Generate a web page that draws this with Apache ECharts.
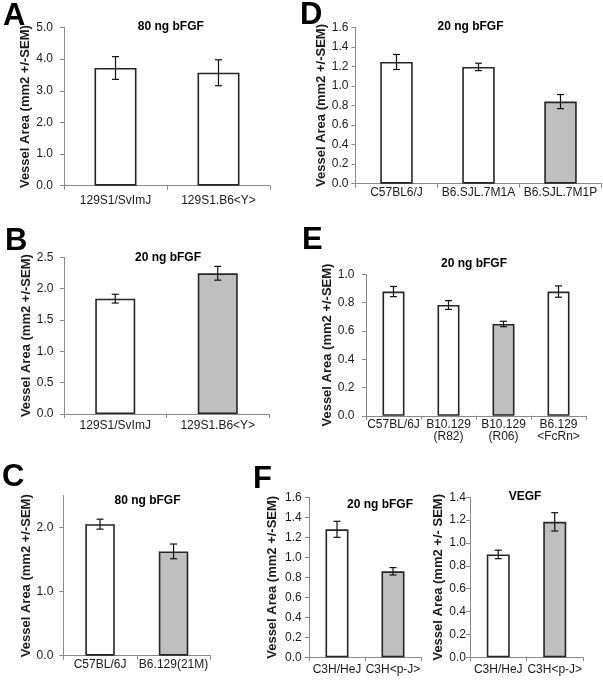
<!DOCTYPE html>
<html><head><meta charset="utf-8">
<script src="https://cdn.jsdelivr.net/npm/echarts@6/dist/echarts.min.js"></script>
<style>html,body{margin:0;padding:0;background:#fff}#c{width:603px;height:682px}</style>
</head><body><div id="c"></div>
<script>
// ---------- DATA ----------
const A_title = '80 ng bFGF';
const A_categories = ['129S1/SvImJ', '129S1.B6<Y>'];
const A_values = [3.72, 3.57];
const A_sem = [0.36, 0.41];
const A_highlight = [false, false];
const A_yTicks = [0, 1, 2, 3, 4, 5];
const A_yMax = 5;

const B_title = '20 ng bFGF';
const B_categories = ['129S1/SvImJ', '129S1.B6<Y>'];
const B_values = [1.84, 2.245];
const B_sem = [0.07, 0.11];
const B_highlight = [false, true];
const B_yTicks = [0, 0.5, 1, 1.5, 2, 2.5];
const B_yMax = 2.5;

const C_title = '80 ng bFGF';
const C_categories = ['C57BL/6J', 'B6.129(21M)'];
const C_values = [2.055, 1.63];
const C_sem = [0.078, 0.115];
const C_highlight = [false, true];
const C_yTicks = [0, 1, 2];
const C_yMax = 2.5;

const D_title = '20 ng bFGF';
const D_categories = ['C57BL6/J', 'B6.SJL.7M1A', 'B6.SJL.7M1P'];
const D_values = [1.245, 1.195, 0.84];
const D_sem = [0.077, 0.038, 0.072];
const D_highlight = [false, false, true];
const D_yTicks = [0, 0.2, 0.4, 0.6, 0.8, 1.0, 1.2, 1.4, 1.6];
const D_yMax = 1.6;

const E_title = '20 ng bFGF';
const E_categories = ['C57BL/6J', 'B10.129\n(R82)', 'B10.129\n(R06)', 'B6.129\n<FcRn>'];
const E_values = [0.878, 0.783, 0.649, 0.878];
const E_sem = [0.036, 0.031, 0.019, 0.04];
const E_highlight = [false, false, true, false];
const E_yTicks = [0, 0.2, 0.4, 0.6, 0.8, 1.0];
const E_yMax = 1.0;

const F1_title = '20 ng bFGF';
const F1_categories = ['C3H/HeJ', 'C3H<p-J>'];
const F1_values = [1.28, 0.86];
const F1_sem = [0.08, 0.037];
const F1_highlight = [false, true];
const F1_yTicks = [0, 0.2, 0.4, 0.6, 0.8, 1.0, 1.2, 1.4, 1.6];
const F1_yMax = 1.6;

const F2_title = 'VEGF';
const F2_categories = ['C3H/HeJ', 'C3H<p-J>'];
const F2_values = [0.9, 1.185];
const F2_sem = [0.037, 0.08];
const F2_highlight = [false, true];
const F2_yTicks = [0, 0.2, 0.4, 0.6, 0.8, 1.0, 1.2, 1.4];
const F2_yMax = 1.4;

const Y_NAME = 'Vessel Area (mm2 +/-SEM)';
const Y_NAME_F2 = 'Vessel Area (mm2 +/- SEM)';
const LETTERS = ['A', 'B', 'C', 'D', 'E', 'F'];

// ---------- LAYOUT ----------
const FONT = 'Arial, "Liberation Sans", Helvetica, sans-serif';
const panels = [
  {title:A_title, cats:A_categories, vals:A_values, sem:A_sem, hi:A_highlight, ticks:A_yTicks, max:A_yMax, yName:Y_NAME,
   grid:{left:64, top:27.5, width:206, height:158.2}, barW:42, xMargin:9, yMargin:11, nameGap:28.5, titlePos:[170.8, 27]},
  {title:B_title, cats:B_categories, vals:B_values, sem:B_sem, hi:B_highlight, ticks:B_yTicks, max:B_yMax, yName:Y_NAME,
   grid:{left:64, top:257.3, width:205, height:156.7}, barW:40, xMargin:6, yMargin:10.5, nameGap:29.5, titlePos:[168, 257.3]},
  {title:C_title, cats:C_categories, vals:C_values, sem:C_sem, hi:C_highlight, ticks:C_yTicks, max:C_yMax, yName:Y_NAME,
   grid:{left:63.3, top:495.7, width:147, height:160}, barW:29.5, xMargin:2.5, yMargin:10, nameGap:28.8, titlePos:[147.5, 501]},
  {title:D_title, cats:D_categories, vals:D_values, sem:D_sem, hi:D_highlight, ticks:D_yTicks, max:D_yMax, yName:Y_NAME,
   grid:{left:355.5, top:27.3, width:246, height:156.4}, barW:32.5, xMargin:2.5, yMargin:7, nameGap:20, titlePos:[470.5, 26.7]},
  {title:E_title, cats:E_categories, vals:E_values, sem:E_sem, hi:E_highlight, ticks:E_yTicks, max:E_yMax, yName:Y_NAME,
   grid:{left:366, top:274.3, width:220, height:141.5}, barW:22, xMargin:2.5, yMargin:11.5, nameGap:30.5, titlePos:[474, 263.3]},
  {title:F1_title, cats:F1_categories, vals:F1_values, sem:F1_sem, hi:F1_highlight, ticks:F1_yTicks, max:F1_yMax, yName:Y_NAME,
   grid:{left:309, top:497.3, width:112, height:160}, barW:23, xMargin:6.5, yMargin:7.3, nameGap:30, titlePos:[380, 505]},
  {title:F2_title, cats:F2_categories, vals:F2_values, sem:F2_sem, hi:F2_highlight, ticks:F2_yTicks, max:F2_yMax, yName:Y_NAME_F2,
   grid:{left:470, top:497.3, width:113, height:160}, barW:23, xMargin:6.5, yMargin:4, nameGap:17.5, titlePos:[525, 496.7]}
];
const letterPos = [[3, 16.5], [5, 241.5], [2, 477], [300, 15.5], [302, 240.5], [253, 479.5]];

const AXIS_COLOR = '#8a8a8a';
const TEXT_COLOR = '#1a1a1a';

function errRender(params, api) {
  const x = api.value(0), lo = api.value(1), hi = api.value(2);
  const pHi = api.coord([x, hi]);
  const pLo = api.coord([x, lo]);
  const w = 3.5;
  const style = {stroke: '#111', lineWidth: 1.2};
  return {type: 'group', children: [
    {type: 'line', shape: {x1: pHi[0], y1: pHi[1], x2: pLo[0], y2: pLo[1]}, style},
    {type: 'line', shape: {x1: pHi[0] - w, y1: pHi[1], x2: pHi[0] + w, y2: pHi[1]}, style},
    {type: 'line', shape: {x1: pLo[0] - w, y1: pLo[1], x2: pLo[0] + w, y2: pLo[1]}, style}
  ]};
}

const grids = [], xAxes = [], yAxes = [], series = [], graphics = [];
panels.forEach((p, i) => {
  grids.push(Object.assign({containLabel: false}, p.grid));
  xAxes.push({
    type: 'category', gridIndex: i, data: p.cats,
    axisLine: {lineStyle: {color: AXIS_COLOR, width: 1}},
    axisTick: {show: true, length: 4, inside: false, lineStyle: {color: AXIS_COLOR}},
    axisLabel: {color: TEXT_COLOR, fontFamily: FONT, fontSize: 12, margin: p.xMargin, lineHeight: 12, interval: 0},
    splitLine: {show: false}
  });
  yAxes.push({
    type: 'value', gridIndex: i, min: 0, max: p.max,
    name: p.yName, nameLocation: 'middle', nameGap: p.nameGap,
    nameTextStyle: {fontFamily: FONT, fontSize: 13, fontWeight: 'bold', color: TEXT_COLOR},
    axisLine: {show: true, lineStyle: {color: AXIS_COLOR, width: 1}},
    axisTick: {show: true, length: 4, inside: false, lineStyle: {color: AXIS_COLOR}, customValues: p.ticks},
    axisLabel: {color: TEXT_COLOR, fontFamily: FONT, fontSize: 12, margin: p.yMargin, customValues: p.ticks,
      formatter: v => v.toFixed(1)},
    splitLine: {show: false}
  });
  series.push({
    type: 'bar', xAxisIndex: i, yAxisIndex: i, barWidth: p.barW,
    data: p.vals.map((v, k) => ({value: v, itemStyle: {color: p.hi[k] ? '#bfbfbf' : '#ffffff'}})),
    itemStyle: {borderColor: '#262626', borderWidth: 1.6},
    silent: true, animation: false, z: 2
  });
  series.push({
    type: 'custom', xAxisIndex: i, yAxisIndex: i, renderItem: errRender,
    data: p.vals.map((v, k) => [k, v - p.sem[k], v + p.sem[k]]),
    silent: true, animation: false, z: 5
  });
  graphics.push({type: 'text', x: p.titlePos[0], y: p.titlePos[1],
    style: {text: p.title, font: 'bold 12px ' + FONT, fill: '#000', textAlign: 'center', textVerticalAlign: 'middle', align: 'center', verticalAlign: 'middle'}});
});
LETTERS.forEach((L, i) => {
  graphics.push({type: 'text', x: letterPos[i][0], y: letterPos[i][1],
    style: {text: L, font: 'bold 31px ' + FONT, fill: '#000', textAlign: 'left', textVerticalAlign: 'middle', align: 'left', verticalAlign: 'middle'}});
});

const chart = echarts.init(document.getElementById('c'), null, {renderer: 'canvas'});
chart.setOption({
  animation: false,
  backgroundColor: '#fff',
  grid: grids, xAxis: xAxes, yAxis: yAxes, series: series,
  graphic: graphics
});
</script>
</body></html>
